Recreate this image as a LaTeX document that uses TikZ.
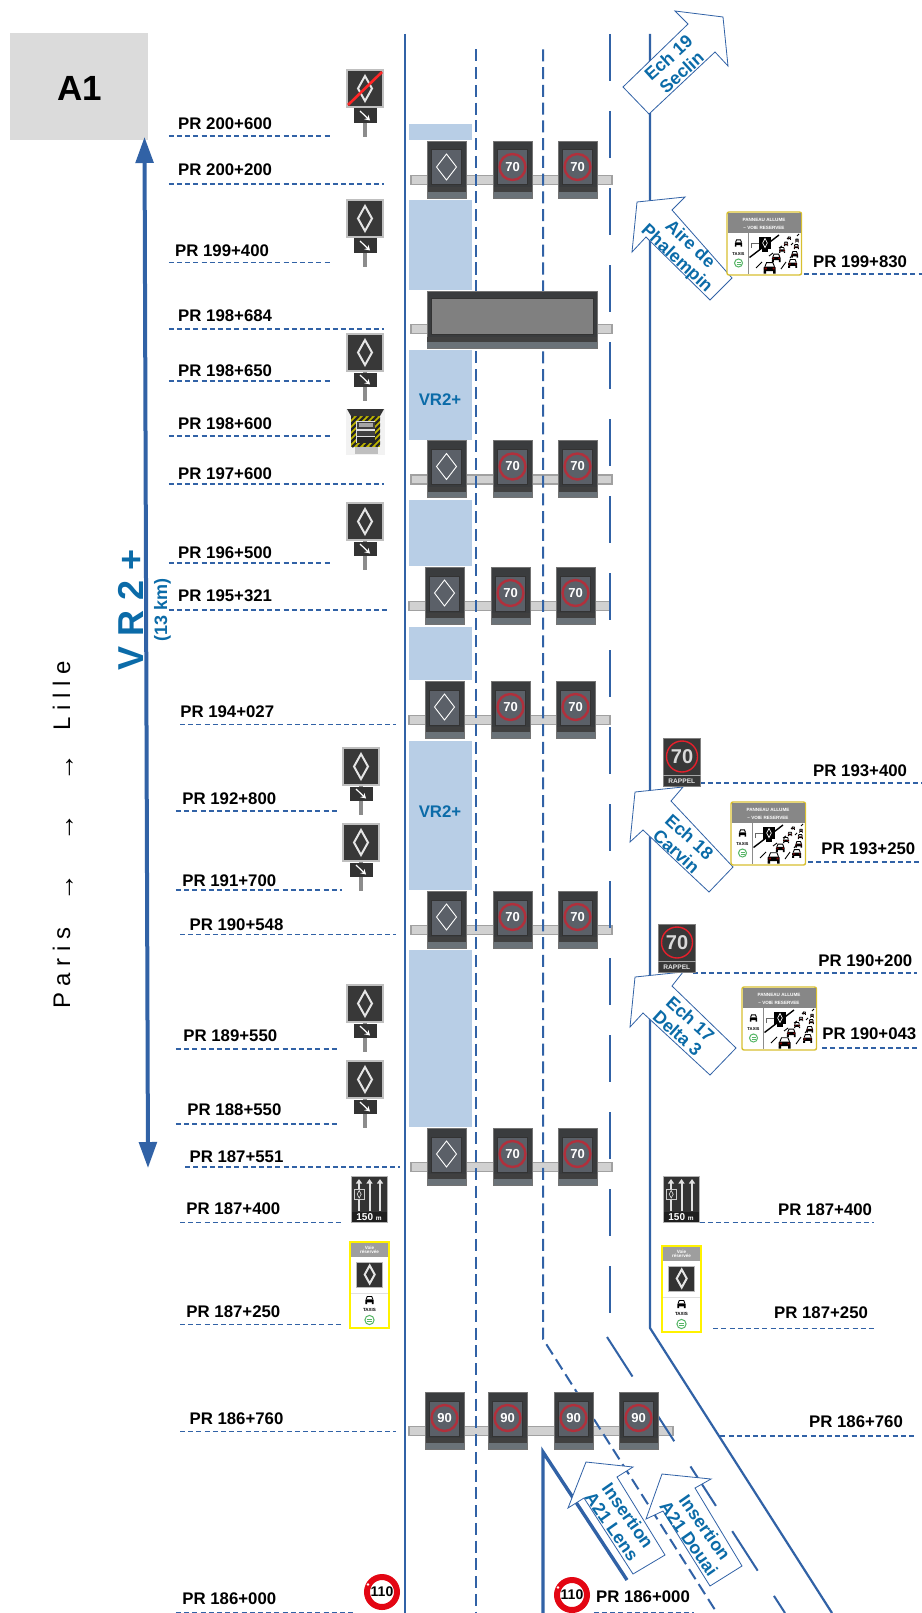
\documentclass[tikz,border=0pt]{standalone}
\usepackage{fontspec}
\setmainfont{Liberation Sans}
\usetikzlibrary{arrows.meta,calc}
\definecolor{roadblue}{HTML}{3162A6}
\definecolor{vrblue}{HTML}{0B6BA8}
\definecolor{zonefill}{HTML}{B8CEE6}
\definecolor{headdark}{HTML}{3A3C3E}
\definecolor{headband}{HTML}{6A7278}
\definecolor{screen}{HTML}{5B6068}
\definecolor{ringred}{HTML}{B0303C}
\definecolor{vividred}{HTML}{E30613}
\definecolor{signyellow}{HTML}{FFF200}
\definecolor{panelyellow}{HTML}{D8C030}
\definecolor{greenring}{HTML}{55B565}
\tikzset{
  road/.style={draw=roadblue,line width=2.2pt},
  lanedash/.style={draw=roadblue,line width=2pt,dash pattern=on 12pt off 5.75pt},
  longdash/.style={draw=roadblue,line width=2pt,dash pattern=on 47pt off 30pt},
  prdots/.style={draw=roadblue,line width=1.8pt,dash pattern=on 5pt off 3.2pt},
  zone/.style={fill=zonefill,draw=none},
  callout/.style={draw=roadblue,fill=white,line width=.8pt,line join=miter},
  prtext/.style={inner sep=0pt,anchor=base west,text=black,font=\fontsize{16.8}{19}\selectfont\bfseries},
  bluetext/.style={inner sep=0pt,text=vrblue,align=center,font=\fontsize{16.8}{19.5}\selectfont\bfseries},
  bluecall/.style={inner sep=0pt,text=vrblue,align=center,font=\fontsize{17.8}{19.5}\selectfont\bfseries},
  beamrect/.style={fill=black!18,draw=black!37,line width=1.5pt},
  tiny/.style={inner sep=0pt,font=\fontsize{#1}{#1}\selectfont\bfseries},
}
% ---------- PR label with dotted rule, coordinates in the 895 x 1568 scale
\newcommand\prl[7]{%
  \begin{scope}[x=1.0291pt,y=-1.0291pt]
    \draw[prdots] (#5,#7) -- (#6+2,#7);
    \node[prtext] (#1) at (#3,#4+5.8) {PR #2};
  \end{scope}}
% ---------- gantry head
\newcommand\headbase[2]{%
  \fill[headdark,draw=black!55,line width=.8pt] (#1-19.5,#2-39) rectangle (#1+19.5,#2+18);
  \fill[black!75] (#1-19,#2+7) rectangle (#1+19,#2+12);
  \fill[headband] (#1-19,#2+12) rectangle (#1+19,#2+17.6);
  \fill[screen,draw=black!80,line width=1pt] (#1-15,#2-30) rectangle (#1+15,#2+5);}
\newcommand\headdia[2]{\headbase{#1}{#2}%
  \draw[white,line width=.9pt] (#1,#2-26) -- (#1+10,#2-13) -- (#1,#2) -- (#1-10,#2-13) -- cycle;}
\newcommand\headspd[3]{\headbase{#1}{#2}%
  \draw[ringred,line width=2.4pt] (#1,#2-13) circle (13);
  \node[tiny=13,text=white] at (#1,#2-13) {#3};}
\newcommand\beam[3]{\draw[beamrect] (#1,#3-4.5) rectangle (#2,#3+4.5);}
\newcommand\threeheads[2]{% first centre, beam y
  \headdia{#1}{#2}\headspd{#1+66}{#2}{70}\headspd{#1+131}{#2}{70}}
% ---------- diamond glyph
\newcommand\signdia[4]{\draw[black!10,line width=2pt] (#1,#2-#4) -- (#1+#3,#2) -- (#1,#2+#4) -- (#1-#3,#2) -- cycle;}
% ---------- roadside diamond sign with arrow panel
\newcommand\dsign[2]{%
  \fill[black!45] (#1-1.8,#2+38) rectangle (#1+1.8,#2+67);
  \fill[black!78,draw=black!25,line width=1.2pt] (#1-18,#2) rectangle (#1+18,#2+37);
  \signdia{#1}{#2+18.5}{7}{12.5}
  \fill[black!80] (#1-11.5,#2+38.5) rectangle (#1+11.5,#2+53);
  \draw[white,line width=1.2pt,-{Stealth[length=5pt,width=6pt]}] (#1-5,#2+41) -- (#1+5,#2+50.5);}
% ---------- car pictogram
\newcommand\vcar[4]{%
  \begin{scope}[shift={(#1,#2)},scale=#3]
    \draw[white,fill=white,line width=.4pt] (-4.8,-1) -- (-3.2,-5) -- (3.2,-5) -- (4.8,-1) -- cycle;
    \draw[black,line width=.9pt] (-4.8,-1) -- (-3.2,-5) -- (3.2,-5) -- (4.8,-1);
    \fill[black,rounded corners=.8pt] (-6,-1) rectangle (6,3.5);
    \fill[black] (-6,3) rectangle (-3.5,6) (3.5,3) rectangle (6,6);
    \fill[#4] (-5,0) rectangle (-2.8,1.6) (2.8,0) rectangle (5,1.6);
  \end{scope}}
\newcommand\greenmark[3]{%
  \draw[greenring,line width=1pt,fill=white] (#1,#2) circle (#3);
  \draw[greenring,line width=.5pt] (#1-#3*.5,#2-.8) -- (#1+#3*.5,#2-.8) (#1-#3*.5,#2+.8) -- (#1+#3*.5,#2+.8);}
% ---------- yellow framed road view panel
\newcommand\vrpanel[3]{%
  \begin{scope}[shift={(#1,#2)}]
    \draw[panelyellow,fill=white,line width=1.4pt,rounded corners=2pt] (0,0) rectangle (74.5,63);
    \fill[black!47] (1,1) rectangle (73.5,21);
    \node[tiny=4.6,text=white] (#3a) at (37,7.5) {PANNEAU ALLUME};
    \node[tiny=4.6,text=white] (#3b) at (37,15.5) {– VOIE RESERVEE};
    \draw[black!45,line width=.6pt] (21.7,21) -- (21.7,62);
    \vcar{11.5}{31}{.62}{black}
    \node[tiny=4.2,text=black] (#3c) at (11.5,42) {TAXIS};
    \greenmark{11.5}{51}{4}
    \draw[black!60,line width=.5pt] (24,36) -- (24,31) -- (33,31);
    \draw[black,line width=1.4pt] (22.5,45.5) -- (52,23);
    \foreach \a/\b/\c/\d in {29/56/35/50,42/44/46/41,52/36/55/34,54/57/59/50,63/46/66/42,64/33/66/31,70/24/72/22,60/27/62/25}
      {\draw[black,line width=.9pt] (\a,\b) -- (\c,\d);}
    \fill[black] (32,25) rectangle (44,37);
    \draw[white,line width=.7pt] (38,26.5) -- (40.3,31) -- (38,35.5) -- (35.7,31) -- cycle;
    \fill[black] (35,37) rectangle (41,40);
    \foreach \px/\py/\ps in {62.3/26.3/.26,70/28.7/.3,59/32/.36,69.3/34.7/.42,55/38/.5,67.7/42.3/.56,49.3/45.7/.72,65.7/51.3/.75,42.7/55.7/1}
      {\vcar{\px}{\py}{\ps}{black!25!red!70!black}}
  \end{scope}}
% ---------- yellow vertical sign
\newcommand\ysign[3]{%
  \begin{scope}[shift={(#1,#2)}]
    \draw[signyellow,fill=white,line width=1.6pt] (0,0) rectangle (39,86);
    \fill[black!38] (1,1) rectangle (38,15);
    \node[tiny=4.6,text=white,align=center] (#3a) at (19.5,8) {Voie\\réservée};
    \fill[black!80,draw=black!28,line width=1pt] (6.7,20) rectangle (32.7,45);
    \signdia{19.7}{32.5}{5}{9}
    \draw[black!12,line width=.7pt] (1,51) -- (38,51);
    \vcar{19.5}{58}{.7}{black}
    \node[tiny=4.5,text=black] (#3b) at (19.5,68) {TAXIS};
    \greenmark{19.5}{78}{4.6}
  \end{scope}}
% ---------- lane sign
\newcommand\lsign[3]{%
  \begin{scope}[shift={(#1,#2)}]
    \fill[black!80,draw=black!30,line width=1pt] (0,0) rectangle (36,46);
    \fill[black!88] (.5,36) rectangle (35.5,45.5);
    \foreach \ax in {8,18.5,29}
      {\draw[black!12,line width=2pt,-{Triangle[length=4.5pt,width=6pt]}] (\ax,35) -- (\ax,3);}
    \draw[black!20,fill=black!80,line width=.5pt] (3,13) rectangle (13.5,23.5);
    \draw[black!10,line width=.6pt] (8.2,14.5) -- (10.2,18.2) -- (8.2,22) -- (6.2,18.2) -- cycle;
    \node[inner sep=0pt,text=white] (#3) at (18,41) {\fontsize{10}{10}\selectfont\bfseries 150 {\fontsize{6.5}{6.5}\selectfont m}};
  \end{scope}}
% ---------- rappel sign
\newcommand\rsign[3]{%
  \begin{scope}[shift={(#1,#2)}]
    \fill[black!78,draw=black!50,line width=.6pt] (0,0) rectangle (37.5,48);
    \draw[black!35,line width=.7pt] (0,37.5) -- (37.5,37.5);
    \draw[vividred!90!white,line width=1.4pt] (19,18.5) circle (15.5);
    \node[tiny=20,text=black!15] (#3a) at (19,18.5) {70};
    \node[tiny=6.6,text=black!10] (#3b) at (18.8,43) {RAPPEL};
  \end{scope}}
% ---------- 110 sign
\newcommand\limitsign[3]{%
  \draw[vividred,fill=white,line width=6pt] (#1,#2) circle (15);
  \fill[white] (#1-14,#2-7.5) circle (1.3);
  \node[tiny=14,text=black] (#3) at (#1,#2) {110};}
\begin{document}
\begin{tikzpicture}[x=1pt,y=-1pt]
\path[use as bounding box,fill=white] (0,0) rectangle (921,1613);
% title box
\fill[black!14] (10,33.5) rectangle (148,140);
\node[inner sep=0pt,font=\fontsize{35}{35}\selectfont\bfseries] (title) at (79.5,88) {A1};
% reserved lane zones
\fill[zone] (409,124) rectangle (472,140);
\fill[zone] (409,200) rectangle (472,290);
\fill[zone] (409,350) rectangle (472,440);
\fill[zone] (409,500) rectangle (472,566);
\fill[zone] (409,627) rectangle (472,680);
\fill[zone] (409,741) rectangle (472,890);
\fill[zone] (409,950) rectangle (472,1127);
\node[bluetext] (vra) at (440,399.5) {VR2+};
\node[bluetext] (vrb) at (440,811.5) {VR2+};
% gantry beams
\beam{411}{612}{180}
\beam{411}{612}{329}
\beam{411}{612}{479.5}
\beam{409}{610}{606}
\beam{409}{610}{720}
\beam{411}{612}{930}
\beam{411}{612}{1167}
\beam{409}{673}{1431}
% road markings
\draw[road] (405,34) -- (405,1613);
\draw[lanedash] (476,49.5) -- (476,1613);
\draw[lanedash] (543,49.5) -- (543,1339) -- (717,1613);
\draw[longdash] (610,34) -- (610,1313);
\draw[longdash] (607,1337) -- (785,1613);
\draw[road] (650,34) -- (650,1328) -- (832,1613);
\draw[roadblue,line width=3.4pt,line join=miter] (543,1613) -- (543,1452) -- (627,1580);
% gantry heads
\threeheads{446.5}{180}
\fill[headdark,draw=black!55,line width=.8pt] (427,291) rectangle (597,348);
\fill[black!75] (427.4,337) rectangle (596.6,342);
\fill[headband] (427.4,342) rectangle (596.6,347.6);
\fill[black!50,draw=black!80,line width=1pt] (431.5,298) rectangle (593,334);
\threeheads{446.5}{479.5}
\threeheads{444.5}{606}
\threeheads{444.5}{720}
\threeheads{446.5}{930}
\threeheads{446.5}{1167}
\headspd{444.5}{1431}{90}
\headspd{507.5}{1431}{90}
\headspd{573.5}{1431}{90}
\headspd{638.5}{1431}{90}
% big double arrow
\draw[roadblue,line width=4pt,{Triangle[length=26pt,width=17.5pt]}-{Triangle[length=26pt,width=17.5pt]}] (144.5,137) -- (148,1168);
\node[inner sep=0pt,rotate=90,anchor=base,text=vrblue,font=\fontsize{36}{36}\selectfont\bfseries] (vrbig) at (143,610) {V R 2 +};
\node[inner sep=0pt,rotate=90,anchor=base,text=vrblue,font=\fontsize{18}{18}\selectfont\bfseries] (km) at (167,610) {(13 km)};
\node[inner sep=0pt,rotate=90,anchor=base,text=black,font=\fontsize{24}{24}\selectfont] (dir) at (70,835)
  {P a r i s\hspace{26pt}\raisebox{-4pt}{\fontsize{28}{28}\selectfont →\hspace{32pt}→\hspace{32pt}→}\hspace{23pt}L i l l e};
% left labels
\prl{la}{200+600}{173}{120}{164}{319}{132}
\prl{lb}{200+200}{173}{165}{164}{371}{179}
\prl{lc}{199+400}{170}{243}{164}{319}{255}
\prl{ld}{198+684}{173}{307}{164}{371}{320}
\prl{le}{198+650}{173}{360}{164}{319}{370}
\prl{lf}{198+600}{173}{412}{164}{319}{424}
\prl{lg}{197+600}{173}{460}{164}{371}{470}
\prl{lh}{196+500}{173}{537}{164}{319}{547}
\prl{li}{195+321}{173}{579}{164}{376}{593}
\prl{lj}{194+027}{175}{691}{175}{383}{704}
\prl{lk}{192+800}{177}{776}{171}{326}{788}
\prl{ll}{191+700}{177}{856}{171}{330}{865}
\prl{lm}{190+548}{184}{898}{175}{383}{908}
\prl{ln}{189+550}{178}{1006}{171}{326}{1019}
\prl{lo}{188+550}{182}{1078}{171}{326}{1092}
\prl{lp}{187+551}{184}{1124}{180}{387}{1134}
\prl{lq}{187+400}{181}{1174}{175}{330}{1188}
\prl{lr}{187+250}{181}{1274}{175}{330}{1287}
\prl{ls}{186+760}{184}{1378}{175}{383}{1391}
\prl{lt}{186+000}{177}{1553}{171}{341}{1567}
% right labels
\prl{ra}{199+830}{790}{254}{781}{895}{266.3}
\prl{rb}{193+400}{790}{749}{680}{895}{761}
\prl{rc}{193+250}{798}{825}{785}{895}{838}
\prl{rd}{190+200}{795}{933}{673}{889}{945.6}
\prl{re}{190+043}{799}{1004}{799}{889}{1018}
\prl{rf}{187+400}{756}{1175}{680}{847}{1188}
\prl{rg}{187+250}{752}{1275}{693}{847}{1291}
\prl{rh}{186+760}{786}{1381}{700}{889}{1395}
\prl{ri}{186+000}{579}{1551}{577}{672}{1567}
% exit / entry arrows
\draw[callout] (688,24) -- (675,11) -- (723,17) -- (728,66) -- (715,52) -- (649,114) -- (623,87) -- cycle;
\node[bluecall,rotate=42] (ech19) at (675,65) {Ech 19\\Seclin};
\draw[callout] (672,210) -- (685,197) -- (637,202) -- (632,252) -- (646,237) -- (710,300) -- (732,278) -- cycle;
\node[bluecall,rotate=-43] (aire) at (683,252) {Aire de\\Phalempin};
\draw[callout] (683,787) -- (635,792) -- (630,842) -- (643,830) -- (709,892) -- (733,867) -- (671,801) -- cycle;
\node[bluecall,rotate=-42] (ech18) at (683,844) {Ech 18\\Carvin};
\draw[callout] (683,972) -- (635,977) -- (630,1027) -- (643,1013) -- (710,1075) -- (736,1048) -- (672,986) -- cycle;
\node[bluecall,rotate=-42] (ech17) at (684,1026) {Ech 17\\Delta 3};
\draw[callout] (586,1462) -- (633,1467) -- (617,1477) -- (665,1555) -- (633,1574) -- (584,1498) -- (568,1508) -- cycle;
\node[bluecall,rotate=-55] (lens) at (620,1521) {Insertion\\A21 Lens};
\draw[callout] (662,1474) -- (711,1479) -- (695,1488) -- (742,1566) -- (710,1586) -- (663,1511) -- (646,1519) -- cycle;
\node[bluecall,rotate=-55] (douai) at (697,1533) {Insertion\\A21 Douai};
% roadside signs
\dsign{365}{70}
\draw[red!85!white,line width=2.6pt] (348,105) -- (382,72);
\dsign{365}{200}
\dsign{365}{334}
\dsign{365}{503}
\dsign{361}{748}
\dsign{361}{824}
\dsign{365}{985}
\dsign{365}{1061}
% speed camera
\begin{scope}[shift={(346,409)}]
  \fill[black!5] (0,0) rectangle (39,46);
  \begin{scope}
    \clip (5,7) rectangle (34,38);
    \fill[signyellow!75!black] (5,7) rectangle (34,38);
    \foreach \s in {-30,-24,...,40}
      {\draw[black!85,line width=2.2pt] (\s,38) -- (\s+31,7);}
  \end{scope}
  \fill[black!80] (1,0) -- (38,0) -- (34,7) -- (5,7) -- cycle;
  \fill[black!12] (10,12) rectangle (29,34);
  \fill[black!75] (10.5,12.5) rectangle (28.5,20);
  \fill[black!35] (12.5,14) rectangle (26.5,18);
  \fill[black!75] (10.5,21.5) rectangle (28.5,26.5);
  \fill[black!85] (10.5,28) rectangle (28.5,33.5);
  \fill[black!25] (9,38) rectangle (32,45);
\end{scope}
\lsign{351}{1176}{lsa}
\lsign{663}{1176}{lsb}
\ysign{350}{1242}{ysa}
\ysign{662}{1246}{ysb}
\vrpanel{727}{212}{vpa}
\vrpanel{731}{802}{vpb}
\vrpanel{742}{987}{vpc}
\rsign{663}{738}{rsa}
\rsign{658}{924}{rsb}
\limitsign{382}{1592}{lima}
\limitsign{572}{1595}{limb}
\end{tikzpicture}
\end{document}
